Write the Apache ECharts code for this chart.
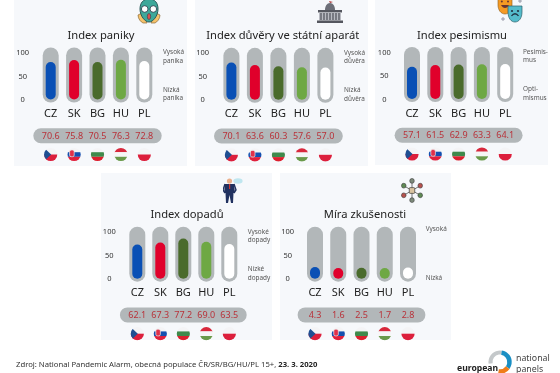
<!DOCTYPE html>
<html>
<head>
<meta charset="utf-8">
<style>
  html, body { margin: 0; padding: 0; background: #fff; }
  #chart { width: 560px; height: 373px; }
</style>
<script src="https://cdn.jsdelivr.net/npm/echarts@6/dist/echarts.min.js"></script>
</head>
<body>
<div id="chart"></div>
<script>
const countries = ['CZ', 'SK', 'BG', 'HU', 'PL'];
const countryColors = ['#0a50b5', '#e0002b', '#4a6b2c', '#6ea844', '#ffffff'];
const yTicks = [0, 50, 100];

const panika = [70.6, 75.8, 70.5, 76.3, 72.8];
const duvera = [70.1, 63.6, 60.3, 57.6, 57.0];
const pesimismus = [57.1, 61.5, 62.9, 63.3, 64.1];
const dopady = [62.1, 67.3, 77.2, 69.0, 63.5];
const zkusenost = [4.3, 1.6, 2.5, 1.7, 2.8];

const TRACK = '#b2b7b9';
const FONT = '"Noto Sans", "Open Sans", sans-serif';

function svgUri(w, h, body) {
    return 'data:image/svg+xml;utf8,' + encodeURIComponent(
        `<svg xmlns="http://www.w3.org/2000/svg" width="${w}" height="${h}" viewBox="0 0 ${w} ${h}">${body}</svg>`);
}

function stripes(a, b, c, extra) {
    return svgUri(14, 14, `<clipPath id="c"><circle cx="7" cy="7" r="6.6"/></clipPath><g clip-path="url(#c)">` +
        `<rect width="14" height="4.7" fill="${a}"/><rect y="4.7" width="14" height="4.6" fill="${b}"/>` +
        `<rect y="9.3" width="14" height="4.7" fill="${c}"/>${extra || ''}</g>`);
}

const flags = [
    svgUri(14, 14, `<clipPath id="c"><circle cx="7" cy="7" r="6.6"/></clipPath><g clip-path="url(#c)">` +
        `<rect width="14" height="7" fill="#f4f4f6"/><rect y="7" width="14" height="7" fill="#dc1f3c"/>` +
        `<path d="M0 0L7.5 7L0 14Z" fill="#1f4f93"/></g>`),
    stripes('#f4f4f6', '#1450b0', '#e0203c', '<rect x="2.5" y="2.6" width="4.6" height="6.6" rx="1.6" fill="#e0304a" stroke="#eee" stroke-width=".7"/>'),
    stripes('#f4f4f6', '#3f8a4c', '#dc1f2e'),
    stripes('#d8283c', '#f6f6f6', '#6a9a4a'),
    svgUri(14, 14, `<clipPath id="c"><circle cx="7" cy="7" r="6.6"/></clipPath><g clip-path="url(#c)">` +
        `<rect width="14" height="7" fill="#f4f4f6"/><rect y="7" width="14" height="7" fill="#dc1f3c"/></g>`)
];

const iconMask = svgUri(26, 26,
    `<path d="M2 17c0 4 3 7 5 8h4l-3-11zM24 17c0 4-3 7-5 8h-4l3-11z" fill="#f5c26b" stroke="#8a6a3a" stroke-width=".7"/>` +
    `<path d="M13 1c6 0 9 4 9 10 0 7-5 13-9 13S4 18 4 11C4 5 7 1 13 1z" fill="#3ea89a" stroke="#2a5a5a" stroke-width="1"/>` +
    `<circle cx="8.7" cy="11" r="3.3" fill="#fff" stroke="#234" stroke-width=".8"/><circle cx="17.3" cy="11" r="3.3" fill="#fff" stroke="#234" stroke-width=".8"/>` +
    `<ellipse cx="13" cy="18.5" rx="1.7" ry="3" fill="#d9534f" stroke="#234" stroke-width=".5"/>`);
const iconCapitol = svgUri(26, 24,
    `<path d="M12 2l4 1-3 1z" fill="#a33"/><path d="M8 11c0-4 2-7 5-7s5 3 5 7z" fill="#6d6f78"/>` +
    `<rect x="1" y="11" width="24" height="2.5" fill="#55575f"/><rect x="2" y="13.5" width="22" height="8" fill="#b9bbc2"/>` +
    `<path d="M4 14v7M7 14v7M10 14v7M13 14v7M16 14v7M19 14v7M22 14v7" stroke="#4d4f57" stroke-width="1.2"/>` +
    `<rect x="0" y="21.5" width="26" height="2.5" fill="#55575f"/>`);
const iconTheatre = svgUri(26, 26,
    `<path d="M1 0h14v8c0 5-3 9-7 9S1 13 1 8z" fill="#f59a23" stroke="#8a5a1a" stroke-width=".6"/>` +
    `<path d="M4 8c2 4 6 4 8 0z" fill="#633"/><circle cx="4.8" cy="4.5" r="1" fill="#633"/><circle cx="11" cy="4.5" r="1" fill="#633"/>` +
    `<path d="M11 9h14v6c0 6-3 10-7 10s-7-4-7-10z" fill="#55bccb" stroke="#2b5f6a" stroke-width=".7"/>` +
    `<path d="M14.5 19c2-3 5-3 7 0" fill="none" stroke="#234" stroke-width="1.3"/><circle cx="15" cy="14" r="1.1" fill="#234"/><circle cx="21" cy="14" r="1.1" fill="#234"/>` +
    `<path d="M23 2v4M21 4h4M6 20v4M4 22h4" stroke="#889" stroke-width=".8"/>`);
const iconMan = svgUri(20, 25,
    `<circle cx="6.5" cy="3" r="2.6" fill="#eab08c"/><path d="M2 6h9l1 9h-1.5l-.5 10H8l-1.5-8L5 25H3l-.5-10H1z" fill="#20315f"/>` +
    `<path d="M2 6L0 12l2 3M11 6l2 6-2 3" fill="none" stroke="#20315f" stroke-width="1.4"/><path d="M6 6h1.2v5H6z" fill="#c33"/>` +
    `<ellipse cx="15" cy="3" rx="4.6" ry="2.8" fill="#bfe6ef"/>`);
const iconNetwork = svgUri(24, 26,
    `<path d="M12 13L12 3M12 13L12 23M12 13L3 8M12 13L21 8M12 13L3 18M12 13L21 18" stroke="#333" stroke-width=".7"/>` +
    `<rect x="9" y="10" width="6" height="6" rx="1" fill="#d9c3a0" stroke="#333" stroke-width=".7"/>` +
    `<circle cx="12" cy="3" r="2.5" fill="#7d8a7a" stroke="#333" stroke-width=".6"/><circle cx="12" cy="23" r="2.5" fill="#7d8a7a" stroke="#333" stroke-width=".6"/>` +
    `<circle cx="3" cy="8" r="2.5" fill="#5f8a55" stroke="#333" stroke-width=".6"/><circle cx="21" cy="8" r="2.5" fill="#b5524e" stroke="#333" stroke-width=".6"/>` +
    `<circle cx="3" cy="18" r="2.5" fill="#b5524e" stroke="#333" stroke-width=".6"/><circle cx="21" cy="18" r="2.5" fill="#5f8a55" stroke="#333" stroke-width=".6"/>`);

const panels = [
    {title: 'Index paniky', titleX: 101, values: panika, rect: [14, 0, 173, 166], c0: 50.7, step: 23.4, zero: 94.5, tickX: 22.7, sideX: 163, top: ['Vysoká', 'panika'], low: ['Nízká', 'panika'], icon: [iconMask, 136, -2, 26, 26]},
    {title: 'Index důvěry ve státní aparát', titleX: 282.7, values: duvera, rect: [195, 0, 173, 166], c0: 231.4, step: 23.5, zero: 94.8, tickX: 202.7, sideX: 344, top: ['Vysoká', 'důvěra'], low: ['Nízká', 'důvěra'], icon: [iconCapitol, 317, -1, 26, 24]},
    {title: 'Index pesimismu', titleX: 462, values: pesimismus, rect: [375, 0, 173, 165], c0: 412, step: 23.3, zero: 94, tickX: 384.3, sideX: 523, top: ['Pesimis-', 'mus'], low: ['Opti-', 'mismus'], icon: [iconTheatre, 497, -3, 26, 26]},
    {title: 'Index dopadů', titleX: 187, values: dopady, rect: [101, 173, 171, 167], c0: 137.3, step: 23, zero: 273.7, tickX: 109.3, sideX: 247.7, top: ['Vysoké', 'dopady'], low: ['Nízké', 'dopady'], icon: [iconMan, 223, 178, 20, 25]},
    {title: 'Míra zkušenosti', titleX: 365, values: zkusenost, rect: [280, 173, 171, 167], c0: 315, step: 23.25, zero: 273.7, tickX: 287.7, sideX: 425.7, top: ['Vysoká'], low: ['Nízká'], icon: [iconNetwork, 401, 178, 22, 25], single: true}
];

function renderBar(params, api) {
    const i = api.value(0);
    const v = api.value(1);
    const zero = api.coord([i, 0]);
    const full = api.coord([i, 100]);
    const cur = api.coord([i, v]);
    return {
        type: 'group',
        children: [
            {type: 'line', shape: {x1: zero[0], y1: zero[1], x2: full[0], y2: full[1]},
                style: {stroke: TRACK, lineWidth: 16, lineCap: 'round'}},
            {type: 'line', shape: {x1: zero[0], y1: zero[1], x2: cur[0], y2: cur[1]},
                style: {stroke: countryColors[i], lineWidth: 10, lineCap: 'round'}},
            {type: 'text', style: {text: v.toFixed(1), x: zero[0], y: zero[1] + 41.5, align: 'center',
                verticalAlign: 'middle', fill: '#b8323a', font: '9px ' + FONT}},
            {type: 'image', style: {image: flags[i], x: zero[0] - 7, y: zero[1] + 53, width: 14, height: 14}}
        ]
    };
}

const grid = [], xAxis = [], yAxis = [], series = [], graphic = [];

panels.forEach((p, n) => {
    const bottom = p.zero;
    // bars: 100 units take 39px
    grid.push({left: p.c0 - p.step / 2, width: p.step * 5, top: bottom - 39, height: 39});
    xAxis.push({type: 'category', gridIndex: n * 2, data: countries, axisLine: {show: false}, axisTick: {show: false},
        axisLabel: {color: '#222', fontFamily: FONT, fontSize: 11, margin: 14, interval: 0}});
    yAxis.push({type: 'value', gridIndex: n * 2, min: 0, max: 100, show: false});
    series.push({type: 'custom', xAxisIndex: n * 2, yAxisIndex: n * 2, renderItem: renderBar,
        encode: {x: 0, y: 1}, silent: true, data: p.values.map((v, i) => [i, v])});

    // tick labels sit on their own scale, a little wider than the bars' one
    grid.push({left: p.tickX, width: 1, top: bottom - 41.5, height: 47});
    xAxis.push({type: 'value', gridIndex: n * 2 + 1, show: false, min: 0, max: 1});
    yAxis.push({type: 'value', gridIndex: n * 2 + 1, min: 0, max: 100, interval: 50,
        axisLine: {show: false}, axisTick: {show: false}, splitLine: {show: false},
        axisLabel: {color: '#333', fontFamily: FONT, fontSize: 7.5, align: 'center', margin: 0,
            formatter: v => yTicks.includes(v) ? String(v) : ''}});
    series.push({type: 'scatter', xAxisIndex: n * 2 + 1, yAxisIndex: n * 2 + 1, data: [], silent: true});

    const [x, y, w, h] = p.rect;
    graphic.push({type: 'rect', z: -10, shape: {x, y, width: w, height: h}, style: {fill: '#f6f8fb'}});
    graphic.push({type: 'rect', z: -9, shape: {x: p.c0 - 17.4, y: bottom + 33.7, width: p.step * 4 + 34.8, height: 15, r: 7.5}, style: {fill: TRACK}});
    graphic.push({type: 'image', z: 1, style: {image: p.icon[0], x: p.icon[1], y: p.icon[2], width: p.icon[3], height: p.icon[4]}});
    graphic.push({type: 'text', z: 1, style: {text: p.title, x: p.titleX, y: bottom - 58.5,
        align: 'center', verticalAlign: 'middle', fill: '#222', font: '11.2px ' + FONT}});
    p.top.forEach((t, k) => graphic.push({type: 'text', z: 1, style: {text: t, x: p.sideX, y: bottom - (p.single ? 44.7 : 42) + k * 8.5, verticalAlign: 'middle', fill: '#555', font: '6.4px ' + FONT}}));
    p.low.forEach((t, k) => graphic.push({type: 'text', z: 1, style: {text: t, x: p.sideX, y: bottom + (p.single ? 4.3 : -4.5) + k * 8.5, verticalAlign: 'middle', fill: '#555', font: '6.4px ' + FONT}}));
});

// footer source line
graphic.push({type: 'text', style: {
    x: 16, y: 365, verticalAlign: 'middle',
    text: '{n|Zdroj: National Pandemic Alarm, obecná populace ČR/SR/BG/HU/PL 15+, }{b|23. 3. 2020}',
    rich: {n: {fill: '#333', font: '7.7px ' + FONT}, b: {fill: '#222', font: 'bold 7.7px ' + FONT}}
}});

// logo
const LOGO_X = 500, LOGO_Y = 362;
graphic.push({type: 'arc', shape: {cx: LOGO_X, cy: LOGO_Y, r: 9.5, startAngle: Math.PI * 0.95, endAngle: Math.PI * 1.55}, style: {stroke: '#c4c8ca', lineWidth: 4, fill: 'none'}});
graphic.push({type: 'arc', shape: {cx: LOGO_X, cy: LOGO_Y, r: 9.5, startAngle: -Math.PI * 0.45, endAngle: Math.PI * 0.2}, style: {stroke: '#1a8fc4', lineWidth: 4.5, fill: 'none'}});
graphic.push({type: 'arc', shape: {cx: LOGO_X, cy: LOGO_Y, r: 9.5, startAngle: Math.PI * 0.2, endAngle: Math.PI * 0.55}, style: {stroke: '#ef7d1a', lineWidth: 4.5, fill: 'none'}});
graphic.push({type: 'text', style: {text: 'european', x: 457, y: 369, verticalAlign: 'middle', fill: '#222', font: 'bold 8.6px ' + FONT}});
graphic.push({type: 'text', style: {text: 'national', x: 516, y: 358, verticalAlign: 'middle', fill: '#444', font: '8.8px ' + FONT}});
graphic.push({type: 'text', style: {text: 'panels', x: 516, y: 369, verticalAlign: 'middle', fill: '#444', font: '8.8px ' + FONT}});

const myChart = echarts.init(document.getElementById('chart'), null, {renderer: 'canvas'});
myChart.setOption({animation: false, backgroundColor: '#fff', grid, xAxis, yAxis, series, graphic: {elements: graphic}});
</script>
</body>
</html>
